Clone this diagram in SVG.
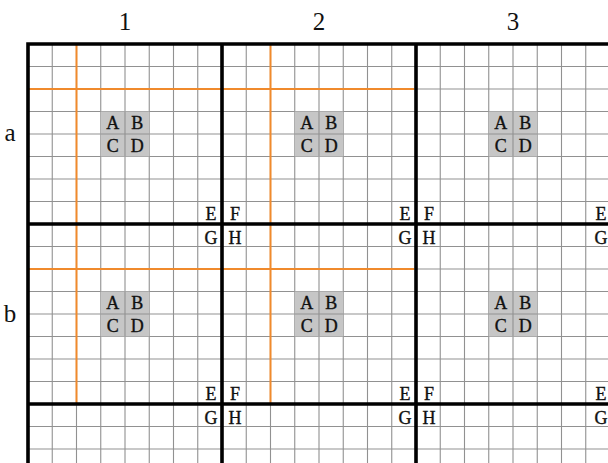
<svg xmlns="http://www.w3.org/2000/svg" width="608" height="463" viewBox="0 0 608 463">
<defs>
<style>
.thin{stroke:#919191;stroke-width:1.1;fill:none}
.thick{stroke:#000;stroke-width:3.6;fill:none}
.org{stroke:#f08a2c;stroke-width:2;fill:none}
.cell{fill:#c6c6c6}
.lt{font-family:"Liberation Serif","Times New Roman",serif;font-size:18px;fill:#111;stroke:#111;stroke-width:0.35;text-anchor:middle}
.hd{font-family:"Liberation Serif","Times New Roman",serif;font-size:25px;fill:#111;text-anchor:middle}
</style>
<g id="abcd">
<rect class="cell" x="0" y="0" width="48.5" height="45"/>
<line class="thin" x1="24.25" y1="0" x2="24.25" y2="45"/>
<line class="thin" x1="0" y1="22.5" x2="48.5" y2="22.5"/>
<text class="lt" x="12" y="17.5">A</text>
<text class="lt" x="36.5" y="17.5">B</text>
<text class="lt" x="12" y="40">C</text>
<text class="lt" x="36.5" y="40">D</text>
</g>
</defs>
<rect width="608" height="463" fill="#fff"/>
<g id="headers">
<text class="hd" x="125" y="30">1</text>
<text class="hd" x="319" y="30">2</text>
<text class="hd" x="513" y="30">3</text>
<text class="hd" x="10" y="141">a</text>
<text class="hd" x="10" y="322">b</text>
</g>
<g id="grid" class="thin">
<path d="M52.25 44V463M76.5 44V463M100.75 44V463M125 44V463M149.25 44V463M173.5 44V463M197.75 44V463M246.25 44V463M270.5 44V463M294.75 44V463M319 44V463M343.25 44V463M367.5 44V463M391.75 44V463M440.25 44V463M464.5 44V463M488.75 44V463M513 44V463M537.25 44V463M561.5 44V463M585.75 44V463"/>
<path d="M28 66.5H608M28 89H608M28 111.5H608M28 134H608M28 156.5H608M28 179H608M28 201.5H608M28 246.5H608M28 269H608M28 291.5H608M28 314H608M28 336.5H608M28 359H608M28 381.5H608M28 426.5H608M28 449H608"/>
</g>
<g id="cells">
<use id="cells-1a" href="#abcd" x="100.75" y="111.5"/>
<use id="cells-2a" href="#abcd" x="294.75" y="111.5"/>
<use id="cells-3a" href="#abcd" x="488.75" y="111.5"/>
<use id="cells-1b" href="#abcd" x="100.75" y="291.5"/>
<use id="cells-2b" href="#abcd" x="294.75" y="291.5"/>
<use id="cells-3b" href="#abcd" x="488.75" y="291.5"/>
</g>
<g id="orange" class="org">
<path d="M76.5 44V404M270.5 44V404M28 89H414M28 269H414"/>
</g>
<g id="thick" class="thick">
<path d="M28 44H608M28 42.2V463M222 44V463M416 44V463M28 224H608M28 404H608"/>
</g>
<g id="efgh">
<g id="x1a"><text class="lt" x="211" y="220">E</text><text class="lt" x="235" y="220">F</text><text class="lt" x="211" y="244">G</text><text class="lt" x="235" y="244">H</text></g>
<g id="x2a"><text class="lt" x="405" y="220">E</text><text class="lt" x="429" y="220">F</text><text class="lt" x="405" y="244">G</text><text class="lt" x="429" y="244">H</text></g>
<g id="x3a"><text class="lt" x="601" y="220">E</text><text class="lt" x="601" y="244">G</text></g>
<g id="x1b"><text class="lt" x="211" y="400">E</text><text class="lt" x="235" y="400">F</text><text class="lt" x="211" y="424">G</text><text class="lt" x="235" y="424">H</text></g>
<g id="x2b"><text class="lt" x="405" y="400">E</text><text class="lt" x="429" y="400">F</text><text class="lt" x="405" y="424">G</text><text class="lt" x="429" y="424">H</text></g>
<g id="x3b"><text class="lt" x="601" y="400">E</text><text class="lt" x="601" y="424">G</text></g>
</g>
</svg>
